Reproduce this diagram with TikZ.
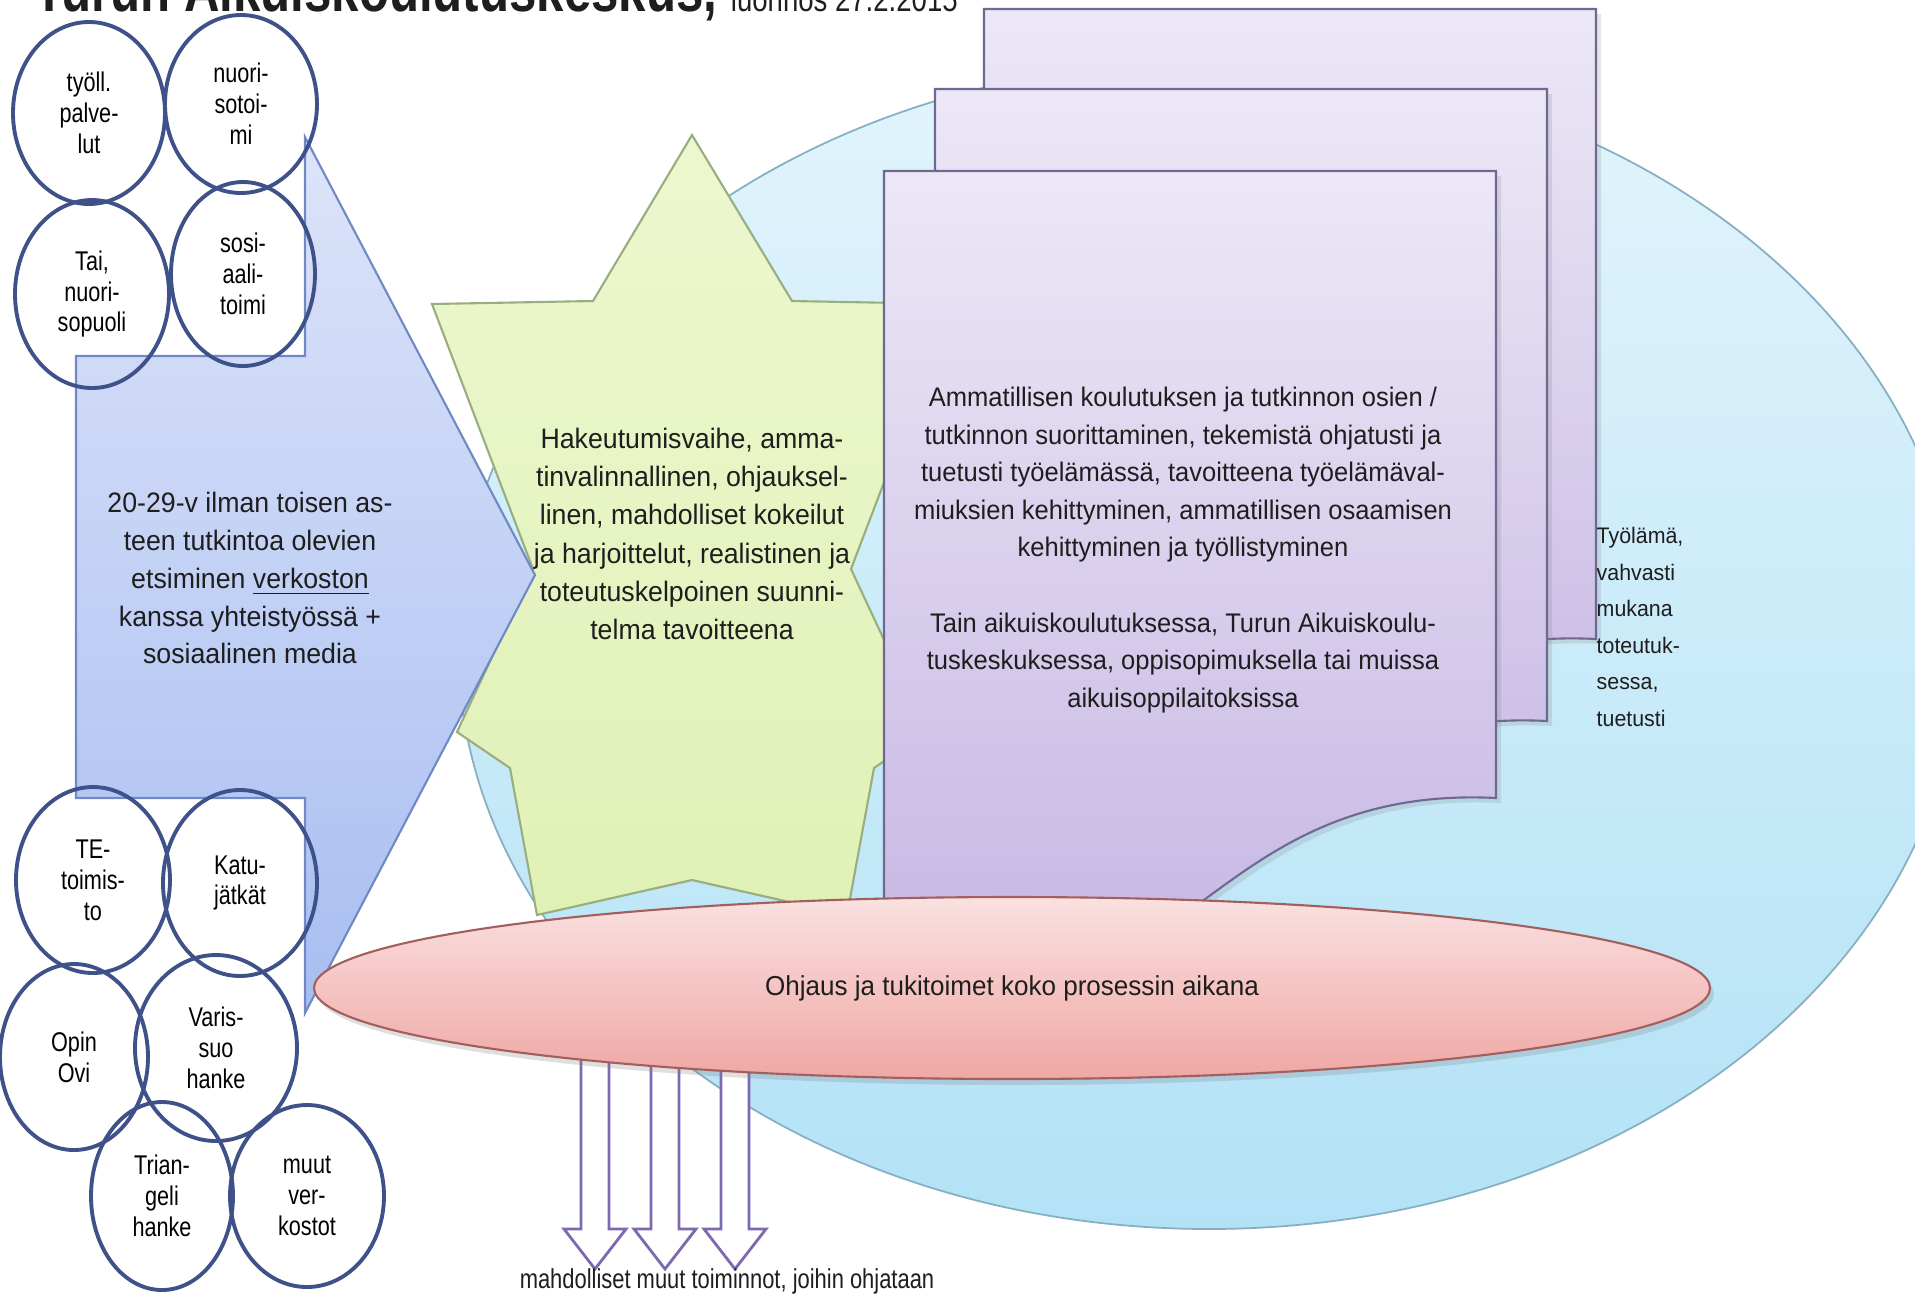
\documentclass[tikz,border=0pt]{standalone}
\usepackage{fontspec}
\setmainfont{Liberation Sans}
\newfontfamily\leipafont{Liberation Sans}[FakeStretch=0.95]
\newfontfamily\kapeafont{Liberation Sans}[FakeStretch=0.8]
\usepackage{tikz}
\usetikzlibrary{shapes.geometric,shadows}

\definecolor{teksti}{HTML}{1E1E1E}
\definecolor{tausta1}{HTML}{E2F4FC}
\definecolor{tausta2}{HTML}{B3E2F6}
\definecolor{taustareuna}{HTML}{86AFC2}
\definecolor{tahti1}{HTML}{EDF7CF}
\definecolor{tahti2}{HTML}{E0F1B6}
\definecolor{tahtireuna}{HTML}{98AE7E}
\definecolor{nuoli1}{HTML}{DDE4F9}
\definecolor{nuoli2}{HTML}{A8BEF1}
\definecolor{nuolireuna}{HTML}{7089C4}
\definecolor{verkkoreuna}{HTML}{3F5189}
\definecolor{violetti1}{HTML}{ECE8F6}
\definecolor{violetti2}{HTML}{C6B6E3}
\definecolor{violettireuna}{HTML}{6F6892}
\definecolor{puna1}{HTML}{FAE1E1}
\definecolor{puna2}{HTML}{EFA7A4}
\definecolor{punareuna}{HTML}{A35E5E}
\definecolor{ohjausnuoli}{HTML}{7E69B1}

\begin{document}
\begin{tikzpicture}[x=0.1mm,y=-0.1mm,
  verkko/.style={ellipse,draw=verkkoreuna,line width=1.1pt,inner sep=0pt,align=center,text=black,
    font=\kapeafont\fontsize{7.7}{8.8}\selectfont,minimum width=15.2mm,minimum height=18.4mm},
  leipa/.style={align=center,inner sep=0pt,text=teksti},
  dokumentti/.style={draw=violettireuna,line width=0.6pt,top color=violetti1,bottom color=violetti2,
    drop shadow={opacity=0.2,shadow xshift=0.5mm,shadow yshift=-0.5mm}},
  ohjausnuolet/.style={draw=ohjausnuoli,line width=0.8pt,fill=white}]
\useasboundingbox (0,0) rectangle (1915,1294);
\fill[white] (0,0) rectangle (1915,1294);

% tausta: tyoelama
\node[ellipse,draw=taustareuna,line width=0.5pt,top color=tausta1,bottom color=tausta2,
  minimum width=150.2mm,minimum height=116.8mm] (tyoelama) at (1209,645) {};

% hakeutumisvaihe
\path[draw=tahtireuna,line width=0.6pt,top color=tahti1,bottom color=tahti2]
  (692,135) -- (792,301) -- (952,304) -- (851,569) -- (927,732) -- (874,768) -- (847,915)
  -- (692,880) -- (537,915) -- (510,768) -- (457,732) -- (533,569) -- (432,304) -- (593,301) -- cycle;

% etsinta
\path[draw=nuolireuna,line width=0.6pt,top color=nuoli1,bottom color=nuoli2]
  (76,356) -- (305,356) -- (305,137) -- (535,575) -- (305,1013) -- (305,798) -- (76,798) -- cycle;

% verkosto
\node[verkko,minimum width=15.2mm,minimum height=18.2mm] (tyoll) at (89,113) {työll.\\palve-\\lut};
\node[verkko,minimum width=15.2mm,minimum height=17.8mm] (nuoriso) at (241,104) {nuori-\\sotoi-\\mi};
\node[verkko,minimum width=15.4mm,minimum height=18.8mm] (tai) at (92,294) {Tai,\\nuori-\\sopuoli};
\node[verkko,minimum width=14.4mm,minimum height=18.4mm] (sosiaali) at (243,274) {sosi-\\aali-\\toimi};
\node[verkko,minimum width=15.4mm,minimum height=18.6mm] (te) at (93,880) {TE-\\toimis-\\to};
\node[verkko,minimum width=15.4mm,minimum height=18.6mm] (katu) at (240,883) {Katu-\\jätkät};
\node[verkko,minimum width=14.8mm,minimum height=18.6mm] (opin) at (74,1057) {Opin\\Ovi};
\node[verkko,minimum width=16.2mm,minimum height=18.6mm] (varis) at (216,1048) {Varis-\\suo\\hanke};
\node[verkko,minimum width=14.2mm,minimum height=18.8mm] (triangeli) at (162,1196) {Trian-\\geli\\hanke};
\node[verkko,minimum width=15.4mm,minimum height=18.2mm] (muut) at (307,1196) {muut\\ver-\\kostot};

% koulutus
\foreach \xa/\ya/\yb in {984/9/639, 935/89/721, 884/171/798}
  \path[dokumentti] (\xa,\ya) -- (\xa+612,\ya) -- (\xa+612,\yb)
    .. controls (\xa+456,\yb-8) and (\xa+376,\yb+62) .. (\xa+306,\yb+112)
    .. controls (\xa+216,\yb+177) and (\xa+76,\yb+162) .. (\xa,\yb+132) -- cycle;

% muut toiminnot
\foreach \x in {595,665,735}
  \path[ohjausnuolet] (\x-14,990) -- (\x-14,1229) -- (\x-31,1229) -- (\x,1269)
    -- (\x+31,1229) -- (\x+14,1229) -- (\x+14,990) -- cycle;

% ohjaus
\node[ellipse,draw=punareuna,line width=0.6pt,top color=puna1,bottom color=puna2,
  drop shadow={opacity=0.25,shadow xshift=0.4mm,shadow yshift=-0.6mm},
  minimum width=139.6mm,minimum height=18.2mm,text=teksti,
  font=\leipafont\fontsize{7.8}{9}\selectfont] (tuki) at (1012,988)
  {Ohjaus ja tukitoimet koko prosessin aikana};

% tekstit
\node[leipa,anchor=base west,font=\kapeafont\fontsize{17.5}{20}\selectfont\bfseries] (otsikko) at (34,11)
  {Turun Aikuiskoulutuskeskus, {\mdseries\fontsize{9.8}{11}\selectfont luonnos 27.2.2015}};
\node[leipa,font=\leipafont\fontsize{8}{10.8}\selectfont] (etsinta) at (250,578)
  {20-29-v ilman toisen as-\\teen tutkintoa olevien\\etsiminen \underline{verkoston}\\kanssa yhteistyössä +\\sosiaalinen media};
\node[leipa,font=\leipafont\fontsize{8}{10.9}\selectfont] (hakeutuminen) at (692,534)
  {Hakeutumisvaihe, amma-\\tinvalinnallinen, ohjauksel-\\linen, mahdolliset kokeilut\\ja harjoittelut, realistinen ja\\toteutuskelpoinen suunni-\\telma tavoitteena};
\node[leipa,font=\leipafont\fontsize{7.65}{10.7}\selectfont] (koulutus) at (1183,550)
  {Ammatillisen koulutuksen ja tutkinnon osien /\\tutkinnon suorittaminen, tekemistä ohjatusti ja\\tuetusti työelämässä, tavoitteena työelämäval-\\miuksien kehittyminen, ammatillisen osaamisen\\kehittyminen ja työllistyminen\\[10.7pt]Tain aikuiskoulutuksessa, Turun Aikuiskoulu-\\tuskeskuksessa, oppisopimuksella tai muissa\\aikuisoppilaitoksissa};
\node[leipa,align=left,anchor=west,font=\leipafont\fontsize{6.4}{10.4}\selectfont] (tyoelama teksti) at (1596,627)
  {Työlämä,\\vahvasti\\mukana\\toteutuk-\\sessa,\\tuetusti};
\node[leipa,font=\kapeafont\fontsize{7.8}{9}\selectfont] (toiminnot) at (727,1281)
  {mahdolliset muut toiminnot, joihin ohjataan};
\end{tikzpicture}
\end{document}
